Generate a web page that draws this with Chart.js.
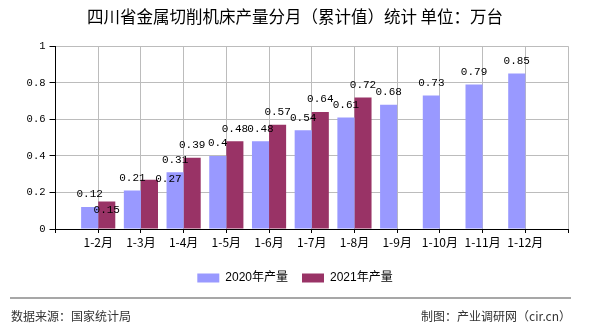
<!DOCTYPE html>
<html>
<head>
<meta charset="utf-8">
<script src="https://cdn.jsdelivr.net/npm/chart.js@4/dist/chart.umd.min.js"></script>
<style>
  html, body { margin: 0; padding: 0; background: #fff; }
  #wrap { width: 590px; height: 330px; }
</style>
</head>
<body>
<div id="wrap"><canvas id="c" width="590" height="330"></canvas></div>
<script>
const titleText = '四川省金属切削机床产量分月（累计值）统计 单位：万台';
const categories = ['1-2月','1-3月','1-4月','1-5月','1-6月','1-7月','1-8月','1-9月','1-10月','1-11月','1-12月'];
const values2020 = [0.12, 0.21, 0.31, 0.4, 0.48, 0.54, 0.61, 0.68, 0.73, 0.79, 0.85];
const values2021 = [0.15, 0.27, 0.39, 0.48, 0.57, 0.64, 0.72];
const seriesNames = ['2020年产量', '2021年产量'];
const yTicks = [0, 0.2, 0.4, 0.6, 0.8, 1];
const sourceText = '数据来源：国家统计局';
const creditText = '制图：产业调研网（cir.cn）';

// axis has an empty slot before the first and after the last month
const axisLabels = [''].concat(categories, ['']);
function pad(arr) {
  const out = [null].concat(arr);
  while (out.length < axisLabels.length) out.push(null);
  return out;
}

// label placement tweaks (dataset-index) -> [dx, dy]
const labelShift = { '1-1': [0, 21], '1-2': [19, 12] };

const valueLabels = {
  id: 'valueLabels',
  afterDatasetsDraw(chart) {
    const ctx = chart.ctx;
    ctx.save();
    ctx.font = "11px 'Liberation Mono', monospace";
    ctx.fillStyle = '#000';
    ctx.textAlign = 'center';
    ctx.textBaseline = 'middle';
    chart.data.datasets.forEach((ds, di) => {
      const meta = chart.getDatasetMeta(di);
      meta.data.forEach((el, i) => {
        const v = ds.data[i];
        if (v === null || v === undefined) return;
        const s = labelShift[di + '-' + i] || [0, 0];
        ctx.fillText(String(v), el.x + s[0], el.y - 12.5 + s[1]);
      });
    });
    ctx.restore();
  }
};

const footer = {
  id: 'footer',
  afterDraw(chart) {
    const ctx = chart.ctx;
    ctx.save();
    ctx.strokeStyle = '#8a8a8a';
    ctx.lineWidth = 1.5;
    ctx.beginPath();
    ctx.moveTo(10, 298);
    ctx.lineTo(571, 298);
    ctx.stroke();
    ctx.font = "12px 'Noto Sans CJK SC', sans-serif";
    ctx.fillStyle = '#333';
    ctx.textBaseline = 'middle';
    ctx.textAlign = 'left';
    ctx.fillText(sourceText, 11, 316);
    ctx.textAlign = 'right';
    ctx.fillText(creditText, 571, 316);
    ctx.restore();
  }
};

new Chart(document.getElementById('c'), {
  type: 'bar',
  data: {
    labels: axisLabels,
    datasets: [
      { label: seriesNames[0], data: pad(values2020), backgroundColor: '#9999FF', borderWidth: 0 },
      { label: seriesNames[1], data: pad(values2021), backgroundColor: '#993366', borderWidth: 0 }
    ]
  },
  options: {
    responsive: false,
    animation: false,
    devicePixelRatio: 1,
    layout: { padding: { left: 0, right: 0, top: 0, bottom: 36 } },
    datasets: { bar: { categoryPercentage: 0.8, barPercentage: 1.0 } },
    plugins: {
      title: {
        display: true,
        text: titleText,
        color: '#000',
        font: { family: "'Noto Sans CJK SC', sans-serif", size: 16.5, weight: 'normal' },
        padding: { top: 7, bottom: 19.4 }
      },
      legend: {
        display: true,
        position: 'bottom',
        labels: {
          boxWidth: 22,
          boxHeight: 9,
          padding: 14,
          color: '#000',
          font: { family: "'Liberation Sans', 'Noto Sans CJK SC', sans-serif", size: 12 }
        }
      },
      tooltip: { enabled: false }
    },
    scales: {
      x: {
        type: 'category',
        offset: false,
        grid: { display: true, offset: false, color: '#bcbcbc', lineWidth: 1, tickColor: '#000', tickLength: 4, drawOnChartArea: true },
        border: { display: true, color: '#000', width: 1 },
        ticks: {
          autoSkip: false, maxRotation: 0, minRotation: 0, padding: 2,
          color: '#000',
          font: { family: "'Noto Sans CJK SC', sans-serif", size: 12 }
        },
        afterFit(scale) { scale.height = 29; }
      },
      y: {
        min: 0, max: 1,
        afterBuildTicks(scale) { scale.ticks = yTicks.map(v => ({ value: v })); },
        grid: { color: '#bcbcbc', lineWidth: 1, tickColor: '#000', tickLength: 6 },
        border: { display: true, color: '#000', width: 1 },
        ticks: {
          padding: 4,
          color: '#000',
          font: { family: "'Liberation Mono', monospace", size: 10.5 },
          callback: (v) => String(v)
        },
        afterFit(scale) { scale.width = 55.5; }
      },
      yRight: {
        position: 'right',
        display: true,
        min: 0, max: 1,
        grid: { display: false, drawTicks: false },
        border: { display: false },
        ticks: { display: false },
        afterFit(scale) { scale.width = 22; }
      }
    }
  },
  plugins: [valueLabels, footer]
});
</script>
</body>
</html>
